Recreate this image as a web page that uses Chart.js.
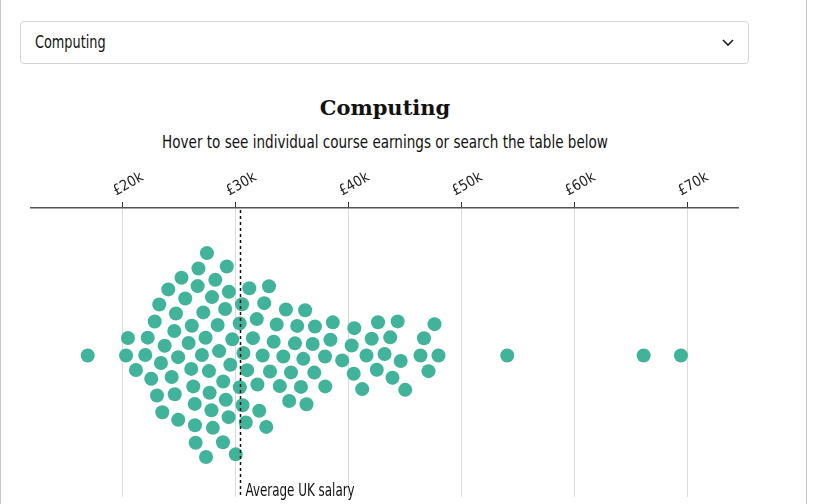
<!DOCTYPE html>
<html>
<head>
<meta charset="utf-8">
<script src="https://cdn.jsdelivr.net/npm/chart.js@4.4.0/dist/chart.umd.min.js"></script>
<style>
  body { margin: 0; background: #fff; font-family: "DejaVu Sans Condensed", "DejaVu Sans", sans-serif; color: #111; }
  .wrap { position: relative; width: 807px; height: 504px; border-left: 1px solid #c8c8c8; border-right: 1px solid #c8c8c8; box-sizing: border-box; overflow: hidden; }
  .select { position: absolute; left: 19px; top: 21px; width: 729px; height: 43px; border: 1px solid #d6d6da; border-radius: 4px; box-sizing: border-box; font-size: 17px; line-height: 41px; padding-left: 14px; }
  .select span { display: inline-block; transform: scaleX(0.84); transform-origin: left center; }
  .select svg { position: absolute; right: 14px; top: 17px; }
  .title { position: absolute; left: 0; width: 768px; top: 95px; margin: 0; text-align: center; font-family: "DejaVu Serif", serif; font-size: 21px; font-weight: bold; color: #111; }
  .sub { position: absolute; left: 0; width: 768px; top: 132px; text-align: center; font-size: 17px; color: #111; transform: scaleX(0.886); transform-origin: 384px 0; }
  #box { position: absolute; left: 0; top: 160px; }
</style>
</head>
<body>
<div class="wrap">
  <div class="select"><span>Computing</span>
    <svg width="12" height="8" viewBox="0 0 12 8"><polyline points="1,1 6,6 11,1" fill="none" stroke="#222" stroke-width="1.6"/></svg>
  </div>
  <div class="title">Computing</div>
  <div class="sub">Hover to see individual course earnings or search the table below</div>
  <canvas id="box" width="806" height="344"></canvas>
</div>
<script>
// course earnings (GBP)
const salaries = [
  16880, 27110, 26610, 24890, 26430, 23210, 24690, 26220, 23480, 21970,
  25810, 24310, 20270, 22810, 25510, 21150, 24010, 26680, 22500, 20440,
  25180, 23690, 22190, 26350, 24880, 23360, 26040, 24540, 23010, 26370,
  24580, 26090, 27310, 26990, 27430,
  28380, 27950, 29500, 27670, 29190, 30660, 31840, 33340, 35960, 27350,
  28850, 30340, 31500, 33010, 34870, 35750, 28510, 29980, 31180, 32680,
  34190, 35420, 28170, 29670, 30870, 32360, 33880, 34710, 36240, 27830,
  29350, 30540, 32060, 33600, 35220, 29040, 30990, 32500, 34420, 36120,
  27880, 29370, 30580, 32920, 27610, 29100, 31900, 28870, 30330,
  36930, 37900, 40470, 42570, 36990, 38570, 41170, 37880, 39400, 40240,
  42460, 41550, 43150, 36790, 38360, 40420, 42010,
  44310, 43650, 46330, 47920, 44580, 47040, 44980, 47570, 43850, 46640,
  54010, 66080, 69380
];
const tickValues = [20000, 30000, 40000, 50000, 60000, 70000];
const avgSalary = 30400;
const avgLabel = 'Average UK salary';

const labelFont = '"DejaVu Sans Condensed", "DejaVu Sans", sans-serif';

// dashed line for the average salary, drawn over the dots
const avgLine = {
  id: 'avgLine',
  afterDatasetsDraw(c) {
    const { ctx, chartArea } = c;
    const x = Math.round(c.scales.x.getPixelForValue(avgSalary)) + 0.5;
    ctx.save();
    ctx.strokeStyle = '#111';
    ctx.lineWidth = 1.5;
    ctx.setLineDash([3, 3]);
    ctx.beginPath();
    ctx.moveTo(x, chartArea.top + 2);
    ctx.lineTo(x, chartArea.bottom);
    ctx.stroke();
    ctx.setLineDash([]);
    ctx.fillStyle = '#111';
    ctx.font = '17px ' + labelFont;
    ctx.textBaseline = 'middle';
    ctx.translate(x + 5, chartArea.bottom - 13);
    ctx.scale(0.78, 1);
    ctx.fillText(avgLabel, 0, 8);
    ctx.restore();
  }
};

const chart = new Chart(document.getElementById('box'), {
  type: 'scatter',
  data: {
    datasets: [{
      data: salaries.map(s => ({ x: s, y: 0 })),
      backgroundColor: '#40b39a',
      borderWidth: 0,
      pointRadius: 7,
      pointHoverRadius: 7,
    }]
  },
  options: {
    responsive: false,
    animation: false,
    layout: { padding: { left: 30, right: 69, top: 0, bottom: 0 } },
    plugins: { legend: { display: false }, tooltip: { enabled: false } },
    scales: {
      x: {
        type: 'linear',
        position: 'top',
        min: 11860,
        max: 74430,
        afterBuildTicks: s => { s.ticks = tickValues.map(v => ({ value: v })); },
        afterFit: s => { s.height = 48; },
        ticks: {
          minRotation: 30,
          maxRotation: 30,
          padding: 2,
          color: '#222',
          font: { family: labelFont, size: 14.5 },
          callback: v => '£' + (v / 1000) + 'k'
        },
        grid: { color: '#dcdcdc', tickColor: '#333', tickLength: 6 },
        border: { color: '#555', width: 1.5 }
      },
      y: { display: false, min: -1, max: 1 }
    }
  },
  plugins: [avgLine]
});

// greedy beeswarm: place each dot as close to the centre line as it fits
function layoutSwarm() {
  const xs = chart.scales.x, ys = chart.scales.y;
  const D = 17.6;
  const cy = ys.getPixelForValue(0) + 3;
  const order = salaries.map((s, i) => ({ i, px: xs.getPixelForValue(s) }))
    .sort((a, b) => a.px - b.px);
  const placed = [];
  const out = [];
  for (const d of order) {
    const near = placed.filter(p => Math.abs(p.px - d.px) < D);
    const cands = [0];
    near.forEach(p => {
      const h = Math.sqrt(D * D - (p.px - d.px) ** 2);
      cands.push(p.py - h, p.py + h);
    });
    cands.sort((a, b) => Math.abs(a) - Math.abs(b));
    const py = cands.find(c => near.every(p => (p.px - d.px) ** 2 + (p.py - c) ** 2 >= D * D - 0.01));
    placed.push({ px: d.px, py });
    out[d.i] = { x: salaries[d.i], y: ys.getValueForPixel(cy + py) };
  }
  chart.data.datasets[0].data = out;
  chart.update('none');
}
layoutSwarm();
</script>
</body>
</html>
